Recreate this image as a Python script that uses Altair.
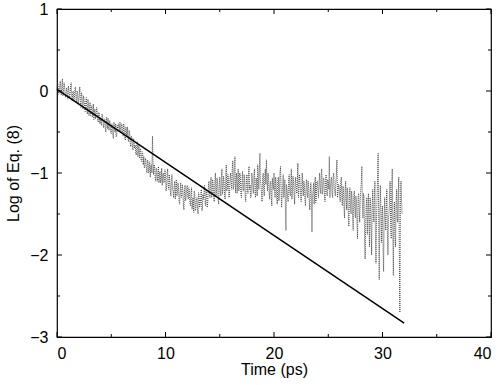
import altair as alt
import pandas as pd

# Fitted straight line
fit_t = [0.0, 32.0]
fit_y = [0.02, -2.83]

# Noisy measured series, read at 0.0, 0.1, 0.2, ... 31.8 ps
noise_y = [
    0.02, 0.08, -0.03, 0.12, -0.05, 0.15, -0.02, 0.06, -0.08, 0.04, -0.10, 0.02, -0.06, 0.10, -0.12, 0.00, -0.09, 0.05, -0.14, -0.02,
    -0.10, 0.05, -0.20, -0.05, -0.22, -0.12, -0.25, -0.08, -0.28, -0.15, -0.20, -0.30, -0.18, -0.26, -0.35, -0.22, -0.30, -0.24, -0.38, -0.28,
    -0.32, -0.42, -0.30, -0.45, -0.36, -0.50, -0.40, -0.33, -0.48, -0.38, -0.52, -0.42, -0.58, -0.45, -0.40, -0.55, -0.47, -0.42, -0.38, -0.50,
    -0.42, -0.55, -0.46, -0.60, -0.50, -0.44, -0.62, -0.52, -0.68, -0.57, -0.72, -0.60, -0.66, -0.78, -0.62, -0.74, -0.82, -0.70, -0.86, -0.76,
    -0.80, -0.92, -0.85, -1.00, -0.88, -0.95, -1.05, -0.90, -0.55, -1.02, -0.92, -1.10, -0.96, -1.05, -1.12, -0.98, -1.08, -1.15, -1.00, -1.10,
    -1.05, -1.18, -0.95, -1.20, -1.10, -1.28, -1.02, -1.22, -1.15, -1.32, -1.08, -1.25, -1.18, -1.38, -1.12, -1.28, -1.20, -1.45, -1.15, -1.30,
    -1.15, -1.32, -1.22, -1.40, -1.18, -1.35, -1.48, -1.25, -1.42, -1.30, -1.50, -1.28, -1.38, -1.20, -1.45, -1.32, -1.15, -1.40, -1.25, -1.35,
    -1.10, -1.30, -1.05, -1.25, -1.15, -1.35, -1.00, -1.22, -1.12, -1.38, -1.05, -1.28, -0.95, -1.20, -1.10, -1.32, -0.90, -1.18, -1.08, -1.25,
    -1.00, -1.20, -0.85, -1.15, -0.80, -1.10, -1.25, -0.95, -1.18, -1.05, -1.30, -0.98, -1.22, -1.08, -1.35, -1.02, -1.25, -0.92, -1.15, -1.28,
    -1.05, -1.25, -0.95, -1.30, -1.10, -0.90, -1.20, -0.76, -1.15, -1.35, -1.00, -1.28, -0.95, -0.84, -1.22, -1.05, -1.32, -1.10, -1.40, -1.15,
    -1.00, -1.30, -1.12, -1.38, -1.05, -1.25, -0.92, -1.42, -1.15, -1.30, -1.08, -1.70, -1.20, -1.35, -1.02, -1.28, -0.95, -1.22, -1.10, -1.38,
    -1.05, -1.25, -0.88, -1.20, -1.10, -1.35, -1.00, -1.28, -1.15, -1.40, -1.08, -1.30, -1.18, -1.45, -1.12, -1.72, -1.22, -1.38, -1.05, -1.30,
    -1.10, -1.30, -1.00, -1.25, -0.95, -1.20, -1.08, -1.35, -1.02, -1.28, -1.12, -0.80, -1.18, -1.05, -1.30, -1.00, -1.22, -1.10, -0.84, -1.25,
    -1.15, -1.35, -1.05, -1.40, -1.20, -1.55, -1.10, -1.45, -1.25, -1.65, -1.18, -1.50, -1.30, -1.70, -1.22, -1.55, -1.35, -1.80, -1.25, -1.60,
    -1.20, -0.92, -1.55, -1.30, -2.05, -1.40, -1.75, -1.25, -1.90, -1.35, -2.00, -1.20, -1.60, -1.10, -2.10, -1.30, -0.76, -2.30, -1.15, -1.85,
    -1.40, -2.20, -1.30, -1.70, -1.20, -2.00, -1.50, -1.10, -1.80, -0.95, -2.25, -1.35, -1.90, -1.20, -1.60, -1.05, -2.70, -1.10, -1.50,
]

# Same series read half-way between, at 0.05, 0.15, ... 31.75 ps
noise_mid_y = [
    0.10, -0.04, 0.06, 0.02, 0.08, -0.06, 0.10, -0.04, 0.00, -0.06, 0.06, -0.08, 0.04, -0.04, -0.02, -0.12, 0.02, -0.10, 0.00, -0.16,
    -0.04, -0.14, -0.02, -0.18, -0.06, -0.20, -0.14, -0.22, -0.10, -0.30, -0.14, -0.22, -0.32, -0.16, -0.26, -0.34, -0.20, -0.36, -0.26, -0.40,
    -0.38, -0.28, -0.40, -0.34, -0.46, -0.32, -0.46, -0.44, -0.36, -0.50, -0.40, -0.54, -0.38, -0.50, -0.56, -0.42, -0.40, -0.50, -0.46, -0.40,
    -0.50, -0.40, -0.58, -0.44, -0.56, -0.58, -0.48, -0.64, -0.55, -0.66, -0.58, -0.70, -0.74, -0.64, -0.80, -0.66, -0.72, -0.84, -0.74, -0.90,
    -0.94, -0.82, -0.98, -0.84, -1.00, -0.86, -0.92, -1.00, -0.85, -0.90, -1.06, -0.94, -1.10, -0.92, -1.00, -1.12, -0.94, -1.04, -1.12, -0.96,
    -1.22, -1.00, -1.14, -1.02, -1.24, -1.06, -1.20, -1.30, -1.10, -1.18, -1.28, -1.12, -1.34, -1.20, -1.30, -1.14, -1.40, -1.22, -1.34, -1.20,
    -1.28, -1.18, -1.36, -1.24, -1.44, -1.30, -1.22, -1.46, -1.32, -1.44, -1.24, -1.42, -1.30, -1.46, -1.26, -1.22, -1.36, -1.20, -1.42, -1.18,
    -1.24, -1.12, -1.30, -1.08, -1.32, -1.10, -1.28, -1.06, -1.32, -1.14, -1.22, -1.06, -1.26, -1.04, -1.28, -1.08, -1.22, -1.02, -1.30, -1.06,
    -1.12, -0.95, -1.20, -0.92, -1.24, -1.00, -1.12, -1.22, -1.00, -1.26, -1.10, -1.20, -1.02, -1.30, -1.10, -1.18, -1.00, -1.20, -1.30, -1.00,
    -1.18, -1.02, -1.22, -1.06, -1.28, -1.04, -0.98, -1.10, -1.26, -1.08, -1.20, -1.04, -1.14, -1.08, -1.00, -1.24, -1.12, -1.30, -1.06, -1.20,
    -1.22, -1.05, -1.30, -1.10, -1.34, -1.00, -1.18, -1.26, -1.02, -1.22, -1.40, -1.14, -1.28, -1.08, -1.22, -1.10, -1.32, -1.04, -1.26, -1.12,
    -1.18, -1.10, -1.30, -1.02, -1.26, -1.18, -1.20, -1.10, -1.32, -1.16, -1.24, -1.10, -1.36, -1.22, -1.30, -1.28, -1.12, -1.24, -1.36, -1.10,
    -1.22, -1.14, -1.18, -1.04, -1.26, -1.06, -1.28, -1.12, -1.20, -1.08, -1.20, -1.30, -1.10, -1.24, -1.06, -1.18, -1.28, -1.02, -1.30, -1.14,
    -1.28, -1.12, -1.30, -1.16, -1.42, -1.22, -1.34, -1.18, -1.50, -1.28, -1.40, -1.22, -1.56, -1.30, -1.44, -1.28, -1.62, -1.30, -1.46, -1.32,
    -1.10, -1.40, -1.25, -1.80, -1.62, -1.30, -1.50, -1.60, -1.30, -1.72, -1.40, -1.45, -1.30, -1.80, -1.55, -1.00, -1.65, -1.50, -1.40, -1.55,
    -1.90, -1.60, -1.55, -1.40, -1.70, -1.55, -1.30, -1.60, -1.20, -1.70, -1.55, -1.75, -1.40, -1.55, -1.25, -2.00, -1.40, -1.30,
]

x_major = [0, 10, 20, 30, 40]
x_minor = [5, 15, 25, 35]
y_major = [-3, -2, -1, 0, 1]
y_minor = [-2.5, -1.5, -0.5, 0.5]

rows = [(round(i * 0.1, 2), v) for i, v in enumerate(noise_y)]
rows += [(round(i * 0.1 + 0.05, 2), v) for i, v in enumerate(noise_mid_y)]
rows.sort()
noise_df = pd.DataFrame(rows, columns=["t", "y"])
fit_df = pd.DataFrame({"t": fit_t, "y": fit_y})

W, H = 434, 328
FONT = "Liberation Sans"
FS = 16

xs = alt.Scale(domain=[0, 40], nice=False, zero=False)
ys = alt.Scale(domain=[-3, 1], nice=False, zero=False)

xaxis = alt.Axis(values=x_major, title="Time (ps)", tickSize=0, domain=False, grid=False,
                 labelFont=FONT, labelFontSize=FS, labelColor="black", labelPadding=8,
                 labelExpr="'' + datum.value",
                 titleFont=FONT, titleFontSize=FS, titleFontWeight="normal", titleColor="black", titlePadding=0)
yaxis = alt.Axis(values=y_major, title="Log of Eq. (8)", tickSize=0, domain=False, grid=False,
                 labelFont=FONT, labelFontSize=FS, labelColor="black", labelPadding=9,
                 titleFont=FONT, titleFontSize=FS, titleFontWeight="normal", titleColor="black", titlePadding=8,
                 labelExpr="datum.value < 0 ? '\u2212' + abs(datum.value) : '' + datum.value")

noise = alt.Chart(noise_df).mark_line(color="#3a3a3a", strokeWidth=0.9, strokeDash=[1, 1]).encode(
    x=alt.X("t:Q", scale=xs, axis=xaxis),
    y=alt.Y("y:Q", scale=ys, axis=yaxis),
    order="t:Q",
)
fit = alt.Chart(fit_df).mark_line(color="black", strokeWidth=1.5).encode(
    x=alt.X("t:Q", scale=xs),
    y=alt.Y("y:Q", scale=ys),
)

def xticks(vals, length):
    df = pd.DataFrame({"v": vals})
    b = alt.Chart(df).mark_rule(color="black", strokeWidth=1).encode(
        x=alt.X("v:Q", scale=xs), y=alt.value(H), y2=alt.value(H - length))
    t = alt.Chart(df).mark_rule(color="black", strokeWidth=1).encode(
        x=alt.X("v:Q", scale=xs), y=alt.value(0), y2=alt.value(length))
    return [b, t]

def yticks(vals, length):
    df = pd.DataFrame({"v": vals})
    l = alt.Chart(df).mark_rule(color="black", strokeWidth=1).encode(
        y=alt.Y("v:Q", scale=ys), x=alt.value(0), x2=alt.value(length))
    r = alt.Chart(df).mark_rule(color="black", strokeWidth=1).encode(
        y=alt.Y("v:Q", scale=ys), x=alt.value(W), x2=alt.value(W - length))
    return [l, r]

layers = [noise, fit] + xticks(x_major, 5) + xticks(x_minor, 3) + yticks(y_major, 5) + yticks(y_minor, 3)

chart = alt.layer(*layers).properties(
    width=W, height=H,
    autosize=alt.AutoSizeParams(type="none"),
    padding={"left": 57, "top": 9, "right": 9, "bottom": 48},
    background="white",
).configure_view(stroke="black", strokeWidth=1.2)

chart.save("out.html", embed_options={"renderer": "svg", "actions": False})
